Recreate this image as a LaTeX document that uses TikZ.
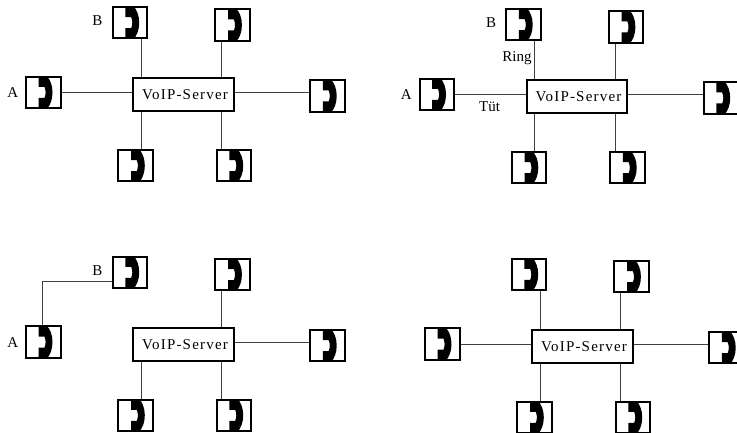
\documentclass[tikz,border=0pt]{standalone}
\usepackage{fontspec}
\setmainfont{Liberation Serif}
\newfontfamily\srvfont[LetterSpace=8]{Liberation Serif}
\definecolor{wire}{gray}{0.25}
\newcommand{\srvtext}{\hspace*{2.5pt}VoIP-Server}
\tikzset{
  phone/.style={draw=black,line width=2pt,fill=white,inner sep=0pt,minimum width=34.5pt,minimum height=31.5pt,
    path picture={\fill[black,shift={(path picture bounding box.center)}]
      (-4.6,-17) -- (3,-17) .. controls (7,-13) and (9.2,-7) .. (9.2,0) .. controls (9.2,7) and (7,13) .. (3,17) -- (-4.6,17) -- (-4.6,5.5) -- (1.2,5.5)
      .. controls (2,3.5) and (2.3,1.5) .. (2.3,0) .. controls (2.3,-1.5) and (2,-3.5) .. (1.2,-5.5) -- (-4.6,-5.5) -- cycle;}},
  server/.style={draw=black,line width=2pt,fill=white,inner sep=0pt,minimum width=100.5pt,minimum height=33pt,font=\fontsize{15}{15}\selectfont\srvfont},
  wirel/.style={draw=wire,line width=1pt},
  lbl/.style={inner sep=0pt,font=\fontsize{15}{15}\selectfont}
}
\begin{document}
\begin{tikzpicture}[x=1pt,y=-1pt]
\useasboundingbox (0,0) rectangle (737,433);
\clip (0,0) rectangle (737,433);
\fill[white] (0,0) rectangle (737,433);
% panel 1
\begin{scope}
\coordinate (cl) at (141,93); \coordinate (cr) at (221.7,93);
\node[phone] (a) at (43.3,92.5) {};
\node[phone] (b) at (130,22.7) {};
\node[phone] (t) at (232.7,25) {};
\node[phone] (r) at (327.5,96) {};
\node[phone] (d) at (135.6,165.7) {};
\node[phone] (e) at (234,165.7) {};
\node[server] (s) at (183.7,94.8) {\srvtext};
\draw[wirel] (a.east |- cl) -- (s.west |- cl);
\draw[wirel] (s.east |- cl) -- (r.west |- cl);
\draw[wirel] (b.south -| cl) -- (s.north -| cl);
\draw[wirel] (t.south -| cr) -- (s.north -| cr);
\draw[wirel] (s.south -| cl) -- (d.north -| cl);
\draw[wirel] (s.south -| cr) -- (e.north -| cr);
\node[lbl] (la) at (12.7,93) {A};
\node[lbl] (lb) at (97.5,21) {B};
\end{scope}
% panel 2
\begin{scope}[shift={(393.5,2)}]
\coordinate (cl) at (141,93); \coordinate (cr) at (221.7,93);
\node[phone] (a) at (43.3,92.5) {};
\node[phone] (b) at (130,22.7) {};
\node[phone] (t) at (232.7,25) {};
\node[phone] (r) at (327.5,96) {};
\node[phone] (d) at (135.6,165.7) {};
\node[phone] (e) at (234,165.7) {};
\node[server] (s) at (183.7,94.8) {\srvtext};
\draw[wirel] (a.east |- cl) -- (s.west |- cl);
\draw[wirel] (s.east |- cl) -- (r.west |- cl);
\draw[wirel] (b.south -| cl) -- (s.north -| cl);
\draw[wirel] (t.south -| cr) -- (s.north -| cr);
\draw[wirel] (s.south -| cl) -- (d.north -| cl);
\draw[wirel] (s.south -| cr) -- (e.north -| cr);
\node[lbl] (la) at (12.7,93) {A};
\node[lbl] (lb) at (97.5,21) {B};
\node[lbl] (ring) at (123.5,56.5) {Ring};
\node[lbl] (tut) at (96,104.5) {Tüt};
\end{scope}
% panel 3
\begin{scope}[shift={(0,249.6)}]
\coordinate (cl) at (141,93); \coordinate (cr) at (221.7,93);
\coordinate (k) at (42,32);
\node[phone] (a) at (43.3,92.5) {};
\node[phone] (b) at (130,22.7) {};
\node[phone] (t) at (232.7,25) {};
\node[phone] (r) at (327.5,96) {};
\node[phone] (d) at (135.6,165.7) {};
\node[phone] (e) at (234,165.7) {};
\node[server] (s) at (183.7,94.8) {\srvtext};
\draw[wirel] (a.north -| k) -- (k) -- (b.west |- k);
\draw[wirel] (s.east |- cl) -- (r.west |- cl);
\draw[wirel] (t.south -| cr) -- (s.north -| cr);
\draw[wirel] (s.south -| cl) -- (d.north -| cl);
\draw[wirel] (s.south -| cr) -- (e.north -| cr);
\node[lbl] (la) at (12.7,93) {A};
\node[lbl] (lb) at (97.5,21) {B};
\end{scope}
% panel 4
\begin{scope}[shift={(399,251.7)}]
\coordinate (cl) at (141,93); \coordinate (cr) at (221.7,93);
\node[phone] (a) at (43.3,92.5) {};
\node[phone] (b) at (130,22.7) {};
\node[phone] (t) at (232.7,25) {};
\node[phone] (r) at (327.5,96) {};
\node[phone] (d) at (135.6,165.7) {};
\node[phone] (e) at (234,165.7) {};
\node[server] (s) at (183.7,94.8) {\srvtext};
\draw[wirel] (a.east |- cl) -- (s.west |- cl);
\draw[wirel] (s.east |- cl) -- (r.west |- cl);
\draw[wirel] (b.south -| cl) -- (s.north -| cl);
\draw[wirel] (t.south -| cr) -- (s.north -| cr);
\draw[wirel] (s.south -| cl) -- (d.north -| cl);
\draw[wirel] (s.south -| cr) -- (e.north -| cr);
\end{scope}
\end{tikzpicture}
\end{document}
